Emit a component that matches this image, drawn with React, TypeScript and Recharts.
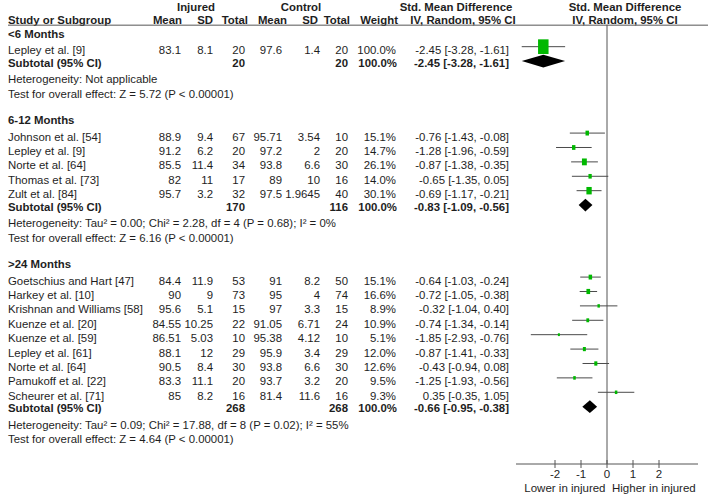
import React from 'react';
import { ComposedChart, Scatter, XAxis, YAxis, ErrorBar, ReferenceLine } from 'recharts';

document.body.style.margin = '0';

const groupNames = ['<6 Months', '6-12 Months', '>24 Months'];

const studyNames = [
  'Lepley et al. [9]',
  'Johnson et al. [54]',
  'Lepley et al. [9]',
  'Norte et al. [64]',
  'Thomas et al. [73]',
  'Zult et al. [84]',
  'Goetschius and Hart [47]',
  'Harkey et al. [10]',
  'Krishnan and Williams [58]',
  'Kuenze et al. [20]',
  'Kuenze et al. [59]',
  'Lepley et al. [61]',
  'Norte et al. [64]',
  'Pamukoff et al. [22]',
  'Scheurer et al. [71]',
];
const studyGroup = [0, 1, 1, 1, 1, 1, 2, 2, 2, 2, 2, 2, 2, 2, 2];
const injMean = [83.1, 88.9, 91.2, 85.5, 82, 95.7, 84.4, 90, 95.6, 84.55, 86.51, 88.1, 90.5, 83.3, 85];
const injSD = [8.1, 9.4, 6.2, 11.4, 11, 3.2, 11.9, 9, 5.1, 10.25, 5.03, 12, 8.4, 11.1, 8.2];
const injN = [20, 67, 20, 34, 17, 32, 53, 73, 15, 22, 10, 29, 30, 20, 16];
const ctlMean = [97.6, 95.71, 97.2, 93.8, 89, 97.5, 91, 95, 97, 91.05, 95.38, 95.9, 93.8, 93.7, 81.4];
const ctlSD = [1.4, 3.54, 2, 6.6, 10, 1.9645, 8.2, 4, 3.3, 6.71, 4.12, 3.4, 6.6, 3.2, 11.6];
const ctlN = [20, 10, 20, 30, 16, 40, 50, 74, 15, 24, 10, 29, 30, 20, 16];
const weight = [100, 15.1, 14.7, 26.1, 14.0, 30.1, 15.1, 16.6, 8.9, 10.9, 5.1, 12.0, 12.6, 9.5, 9.3];
const smd = [-2.45, -0.76, -1.28, -0.87, -0.65, -0.69, -0.64, -0.72, -0.32, -0.74, -1.85, -0.87, -0.43, -1.25, 0.35];
const ciLow = [-3.28, -1.43, -1.96, -1.38, -1.35, -1.17, -1.03, -1.05, -1.04, -1.34, -2.93, -1.41, -0.94, -1.93, -0.35];
const ciHigh = [-1.61, -0.08, -0.59, -0.35, 0.05, -0.21, -0.24, -0.38, 0.4, -0.14, -0.76, -0.33, 0.08, -0.56, 1.05];

const subInjN = [20, 170, 268];
const subCtlN = [20, 116, 268];
const subSmd = [-2.45, -0.83, -0.66];
const subLow = [-3.28, -1.09, -0.95];
const subHigh = [-1.61, -0.56, -0.38];
const hetText = [
  'Heterogeneity: Not applicable',
  'Heterogeneity: Tau² = 0.00; Chi² = 2.28, df = 4 (P = 0.68); I² = 0%',
  'Heterogeneity: Tau² = 0.09; Chi² = 17.88, df = 8 (P = 0.02); I² = 55%',
];
const testText = [
  'Test for overall effect: Z = 5.72 (P < 0.00001)',
  'Test for overall effect: Z = 6.16 (P < 0.00001)',
  'Test for overall effect: Z = 4.64 (P < 0.00001)',
];
const xTicks = [-2, -1, 0, 1, 2];

// layout (row units, one study line = 1)
const FONT = '"Liberation Sans", Arial, Helvetica, sans-serif';
const FS = 11.4;
const INK = '#1e1e1e';
const RULE = '#555';
const Y_TOP = -1.722;
const Y_BOT = 30.5;
const DIAMOND_H = 0.44;

type Row = { kind: string; x: number; y: number; i?: number; g?: number };

const rows: Row[] = [
  { kind: 'head1', x: 0, y: -1.5 },
  { kind: 'head2', x: 0, y: -0.6 },
];
const studyPts: any[] = [];
const diamondPts: any[] = [];

let pos = 0.38;
groupNames.forEach((_, g) => {
  rows.push({ kind: 'group', x: 0, y: pos, g });
  pos += 1.14;
  studyNames.forEach((_, i) => {
    if (studyGroup[i] !== g) return;
    rows.push({ kind: 'study', x: 0, y: pos, i });
    studyPts.push({ x: smd[i], y: pos, w: weight[i], err: [smd[i] - ciLow[i], ciHigh[i] - smd[i]] });
    pos += 1;
  });
  rows.push({ kind: 'subtotal', x: 0, y: pos, g });
  diamondPts.push(
    { x: subLow[g], y: pos },
    { x: subSmd[g], y: pos - DIAMOND_H },
    { x: subHigh[g], y: pos },
    { x: subSmd[g], y: pos + DIAMOND_H },
  );
  pos += 1.03;
  rows.push({ kind: 'het', x: 0, y: pos, g });
  pos += 1.0;
  rows.push({ kind: 'test', x: 0, y: pos, g });
  pos += 1.83;
});

const ciLabel = (m: number, lo: number, hi: number) => `${m.toFixed(2)} [${lo.toFixed(2)}, ${hi.toFixed(2)}]`;

function T(props: any) {
  const { x, y, anchor = 'start', bold = false, children } = props;
  return (
    <text x={x} y={y} textAnchor={anchor} fontFamily={FONT} fontSize={FS} fontWeight={bold ? 'bold' : 'normal'} fill={INK}>
      {children}
    </text>
  );
}

function RowText(props: any) {
  const { cy, payload } = props;
  const r: Row = payload;
  const b = cy + 7.5;
  if (r.kind === 'head1') {
    return (
      <g>
        <T x={196} y={b} anchor="middle" bold>Injured</T>
        <T x={301} y={b} anchor="middle" bold>Control</T>
        <T x={456} y={b} anchor="middle" bold>Std. Mean Difference</T>
        <T x={625} y={b} anchor="middle" bold>Std. Mean Difference</T>
      </g>
    );
  }
  if (r.kind === 'head2') {
    return (
      <g>
        <T x={8} y={b} bold>Study or Subgroup</T>
        <T x={182} y={b} anchor="end" bold>Mean</T>
        <T x={213} y={b} anchor="end" bold>SD</T>
        <T x={248} y={b} anchor="end" bold>Total</T>
        <T x={287} y={b} anchor="end" bold>Mean</T>
        <T x={318} y={b} anchor="end" bold>SD</T>
        <T x={350} y={b} anchor="end" bold>Total</T>
        <T x={398} y={b} anchor="end" bold>Weight</T>
        <T x={463} y={b} anchor="middle" bold>IV, Random, 95% CI</T>
        <T x={625} y={b} anchor="middle" bold>IV, Random, 95% CI</T>
        <line x1={8} x2={708} y1={cy + 9} y2={cy + 9} stroke={RULE} strokeWidth={1} />
      </g>
    );
  }
  if (r.kind === 'group') return <T x={8} y={b} bold>{groupNames[r.g!]}</T>;
  if (r.kind === 'het') return <T x={8} y={b}>{hetText[r.g!]}</T>;
  if (r.kind === 'test') return <T x={8} y={b}>{testText[r.g!]}</T>;
  if (r.kind === 'subtotal') {
    const g = r.g!;
    const sb = cy + 5.6;
    return (
      <g>
        <T x={8} y={sb} bold>Subtotal (95% CI)</T>
        <T x={245} y={sb} anchor="end" bold>{subInjN[g]}</T>
        <T x={348} y={sb} anchor="end" bold>{subCtlN[g]}</T>
        <T x={397} y={sb} anchor="end" bold>100.0%</T>
        <T x={509} y={sb} anchor="end" bold>{ciLabel(subSmd[g], subLow[g], subHigh[g])}</T>
      </g>
    );
  }
  const i = r.i!;
  return (
    <g>
      <T x={8} y={b}>{studyNames[i]}</T>
      <T x={181} y={b} anchor="end">{String(injMean[i])}</T>
      <T x={213} y={b} anchor="end">{String(injSD[i])}</T>
      <T x={245} y={b} anchor="end">{injN[i]}</T>
      <T x={282} y={b} anchor="end">{String(ctlMean[i])}</T>
      <T x={320} y={b} anchor="end">{String(ctlSD[i])}</T>
      <T x={348} y={b} anchor="end">{ctlN[i]}</T>
      <T x={396} y={b} anchor="end">{weight[i].toFixed(1)}%</T>
      <T x={509} y={b} anchor="end">{ciLabel(smd[i], ciLow[i], ciHigh[i])}</T>
    </g>
  );
}

function StudySquare(props: any) {
  const { cx, cy, payload } = props;
  const w = Math.max(2, 1.15 * Math.sqrt(payload.w) - 1);
  const h = w * 1.4;
  return <rect x={cx - w / 2} y={cy - h / 2} width={w} height={h} fill="#00b800" />;
}

function DiamondLine(props: any) {
  const pts = props.points || [];
  const polys = [];
  for (let k = 0; k + 3 < pts.length; k += 4) {
    const p = pts.slice(k, k + 4).map((q: any) => `${q.x},${q.y}`).join(' ');
    polys.push(<polygon key={k} points={p} fill="#000" stroke="none" />);
  }
  return <g>{polys}</g>;
}

function AxisTick(props: any) {
  const { x, y, payload } = props;
  return (
    <g>
      <line x1={x} x2={x} y1={y - 4} y2={y + 4} stroke={RULE} />
      <text x={x} y={y + 14} textAnchor="middle" fontFamily={FONT} fontSize={11.5} fill={INK}>
        {payload.value}
      </text>
      {payload.value === 0 && (
        <g>
          <text x={x - 1.5} y={y + 28} textAnchor="end" fontFamily={FONT} fontSize={11.5} fill={INK}>
            Lower in injured
          </text>
          <text x={x + 5} y={y + 28} textAnchor="start" fontFamily={FONT} fontSize={11.5} fill={INK}>
            Higher in injured
          </text>
        </g>
      )}
    </g>
  );
}

export default function App() {
  return (
    <div style={{ width: 708, height: 495, background: '#fff' }}>
      <ComposedChart width={708} height={495} margin={{ top: 0, right: 10, bottom: 0, left: 516 }}>
        <XAxis
          type="number"
          dataKey="x"
          domain={[-3.5, 3.5]}
          ticks={xTicks}
          height={31}
          tickSize={0}
          tickMargin={0}
          tickLine={false}
          axisLine={{ stroke: RULE }}
          tick={<AxisTick />}
          interval={0}
        />
        <YAxis type="number" dataKey="y" domain={[Y_TOP, Y_BOT]} reversed hide />
        <ReferenceLine segment={[{ x: 0, y: 0 }, { x: 0, y: Y_BOT }]} stroke={RULE} strokeWidth={1} />
        <Scatter data={rows} shape={<RowText />} isAnimationActive={false} />
        <Scatter data={studyPts} shape={<StudySquare />} isAnimationActive={false}>
          <ErrorBar dataKey="err" direction="x" width={0} stroke="#4a4a4a" strokeWidth={1} />
        </Scatter>
        <Scatter data={diamondPts} shape={() => <g />} line={DiamondLine} isAnimationActive={false} />
      </ComposedChart>
    </div>
  );
}
